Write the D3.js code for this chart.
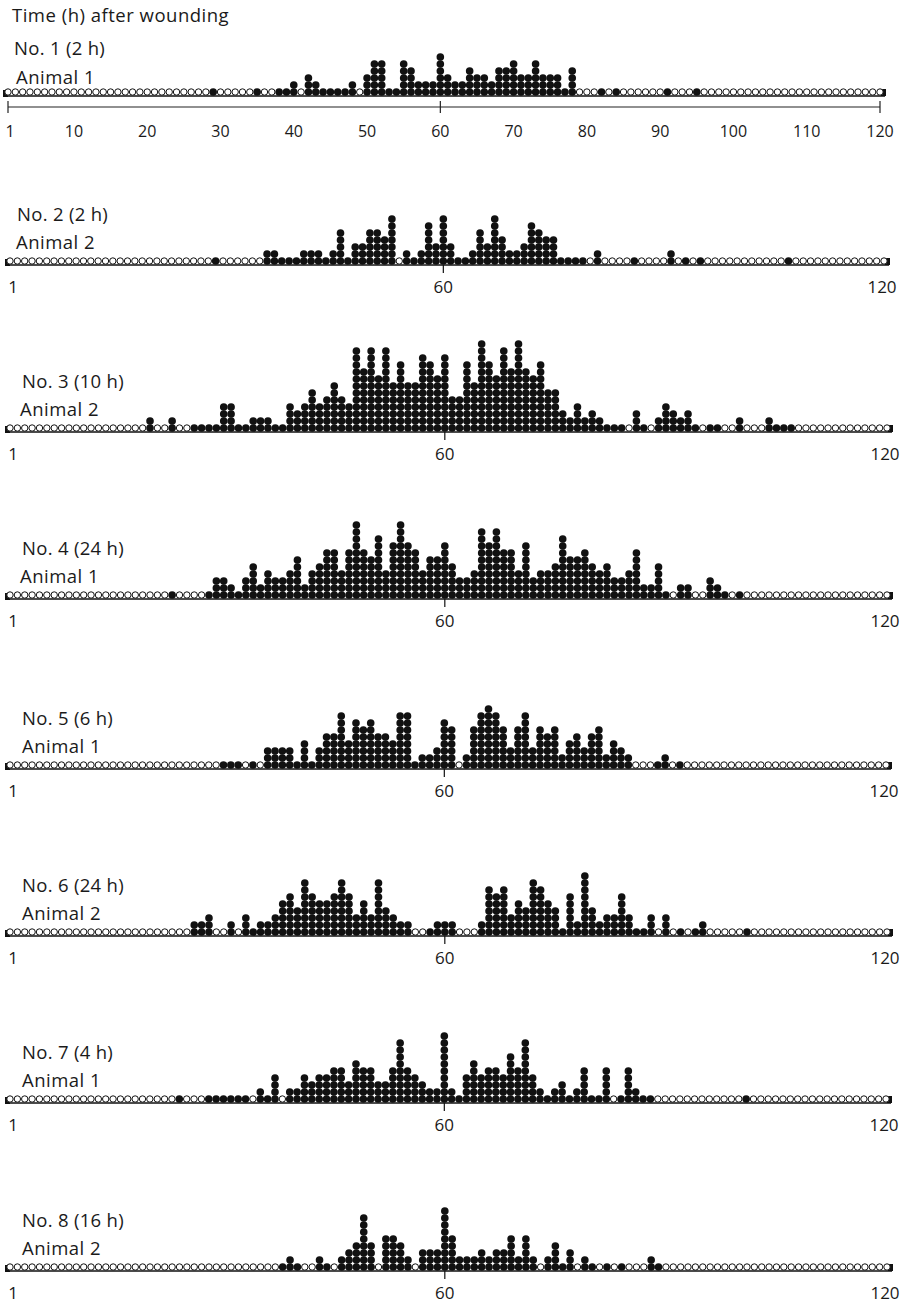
<!DOCTYPE html>
<html><head><meta charset="utf-8">
<script src="https://cdn.jsdelivr.net/npm/d3@7"></script>
<style>
body{margin:0;background:#fff}
text{font-family:"Open Sans",Lato,sans-serif;fill:#1a1a1a}
</style>
</head><body>
<svg id="chart" width="907" height="1309"></svg>
<script>
// ---------------- DATA ----------------
const chartTitle = "Time (h) after wounding";
const panelTitles = ["No. 1 (2 h)","No. 2 (2 h)","No. 3 (10 h)","No. 4 (24 h)","No. 5 (6 h)","No. 6 (24 h)","No. 7 (4 h)","No. 8 (16 h)"];
const animalLabels = ["Animal 1","Animal 2","Animal 2","Animal 1","Animal 1","Animal 2","Animal 1","Animal 2"];
const positions = d3.range(1, 121);
const scaleTicks = [1,10,20,30,40,50,60,70,80,90,100,110,120];
const panelTicks = [1,60,120];

// counts of filled dots at positions 1..120 (0 = open circle)
const counts1 = [
0,0,0,0,0,0,0,0,0,0, 0,0,0,0,0,0,0,0,0,0, 0,0,0,0,0,0,0,0,1,0,
0,0,0,0,1,0,0,1,1,2, 0,3,2,1,1,1,1,2,0,3, 5,5,1,1,5,4,2,2,2,6,
3,2,2,4,3,3,2,4,4,5, 3,3,5,3,3,3,1,4,0,0, 0,1,0,1,0,0,0,0,0,0,
1,0,0,0,1,0,0,0,0,0, 0,0,0,0,0,0,0,0,0,0, 0,0,0,0,0,0,0,0,0,0];
const counts2 = [
0,0,0,0,0,0,0,0,0,0, 0,0,0,0,0,0,0,0,0,0, 0,0,0,0,0,0,0,0,1,0,
0,0,0,0,0,2,2,1,1,1, 2,2,2,1,2,5,1,3,3,5, 5,4,7,0,2,1,2,6,3,7,
3,1,1,2,5,3,7,4,2,2, 3,6,5,4,4,1,1,1,1,0, 2,0,0,0,0,1,0,0,0,0,
2,0,1,0,1,0,0,0,0,0, 0,0,0,0,0,0,1,0,0,0, 0,0,0,0,0,0,0,0,0,0];
const counts3 = [
0,0,0,0,0,0,0,0,0,0, 0,0,0,0,0,0,0,0,0,2, 0,0,2,0,0,1,1,1,1,4,
4,1,1,2,2,2,1,1,4,3, 4,6,4,5,7,5,4,12,9,12, 8,12,7,10,7,7,11,10,8,11,
5,5,10,7,13,10,8,12,9,13, 9,8,10,6,6,3,2,4,2,3, 2,1,1,1,0,3,1,0,2,4,
3,2,3,1,0,1,1,0,0,2, 0,0,0,2,1,1,1,0,0,0, 0,0,0,0,0,0,0,0,0,0];
const counts4 = [
0,0,0,0,0,0,0,0,0,0, 0,0,0,0,0,0,0,0,0,0, 0,0,1,0,0,0,0,1,3,3,
2,1,3,5,2,4,3,3,4,6, 2,4,5,7,7,4,7,11,7,6, 9,4,8,11,8,7,4,6,6,8,
5,3,3,4,10,8,10,7,7,4, 8,3,4,4,5,9,6,6,7,5, 4,5,3,3,4,7,2,2,5,1,
0,2,2,0,0,3,2,1,0,1, 0,0,0,0,0,0,0,0,0,0, 0,0,0,0,0,0,0,0,0,0];
const counts5 = [
0,0,0,0,0,0,0,0,0,0, 0,0,0,0,0,0,0,0,0,0, 0,0,0,0,0,0,0,0,0,1,
1,1,0,1,0,3,3,3,3,1, 4,1,3,5,5,8,4,7,6,7, 5,5,4,8,8,1,2,2,3,7,
6,0,2,6,8,9,8,6,3,6, 8,3,6,5,6,2,4,5,3,5, 6,2,4,3,2,0,0,0,1,2,
0,1,0,0,0,0,0,0,0,0, 0,0,0,0,0,0,0,0,0,0, 0,0,0,0,0,0,0,0,0,0];
const counts6 = [
0,0,0,0,0,0,0,0,0,0, 0,0,0,0,0,0,0,0,0,0, 0,0,0,0,0,2,2,3,0,0,
2,0,3,1,2,2,3,5,6,4, 8,6,5,5,6,8,6,3,5,3, 8,4,3,2,2,0,0,1,2,2,
2,0,0,0,2,7,6,7,3,5, 4,8,7,5,4,1,6,2,9,4, 2,3,3,6,3,1,1,3,0,3,
0,1,0,1,2,0,0,0,0,0, 1,0,0,0,0,0,0,0,0,0, 0,0,0,0,0,0,0,0,0,0];
const counts7 = [
0,0,0,0,0,0,0,0,0,0, 0,0,0,0,0,0,0,0,0,0, 0,0,0,1,0,0,0,1,1,1,
1,1,1,0,2,1,4,0,2,2, 4,3,4,4,5,5,3,6,5,5, 3,3,5,9,5,4,3,2,2,10,
2,1,4,6,4,5,5,4,7,5, 9,4,2,1,2,3,1,2,5,1, 1,5,0,1,5,2,1,1,0,0,
0,0,0,0,0,0,0,0,0,0, 1,0,0,0,0,0,0,0,0,0, 0,0,0,0,0,0,0,0,0,0];
const counts8 = [
0,0,0,0,0,0,0,0,0,0, 0,0,0,0,0,0,0,0,0,0, 0,0,0,0,0,0,0,0,0,0,
0,0,0,0,0,0,0,1,2,1, 0,0,2,1,0,2,3,4,8,4, 0,5,5,4,2,0,3,3,3,9,
5,2,2,2,3,2,3,3,5,2, 5,2,0,2,4,1,3,0,2,1, 0,1,0,1,0,0,0,2,1,0,
0,0,0,0,0,0,0,0,0,0, 0,0,0,0,0,0,0,0,0,0, 0,0,0,0,0,0,0,0,0,0];
const allCounts = [counts1,counts2,counts3,counts4,counts5,counts6,counts7,counts8];

// ---------------- LAYOUT ----------------
const W = 907, H = 1309;
const baseY = [92, 261, 428, 595, 765, 932, 1099, 1267];
const xRanges = [[8,880],[10,884],[10,887],[10,887],[10,886],[10,887],[10,886],[10,887]];
const labelX = [14, 17, 22, 22, 22, 22, 22, 22];
const animalX = [16, 16, 20, 20, 22, 22, 22, 22];
const dotStep = 7;

const svg = d3.select("#chart");
svg.append("rect").attr("width", W).attr("height", H).attr("fill", "#fff");

svg.append("text").attr("x", 12).attr("y", 22)
  .attr("font-size", 18.5).attr("letter-spacing", 0.5).text(chartTitle);

allCounts.forEach((counts, i) => {
  const B = baseY[i];
  const x = d3.scaleLinear().domain([1, 120]).range(xRanges[i]);
  const y = d3.scaleLinear().domain([0, 1]).range([B, B - dotStep]);
  const g = svg.append("g");

  // labels
  const titleY = i === 0 ? 55 : B - 40;
  const animalY = i === 0 ? 84 : B - 12;
  g.append("text").attr("x", labelX[i]).attr("y", titleY).attr("font-size", 18.5)
    .attr("letter-spacing", 0.3).text(panelTitles[i]);
  g.append("text").attr("x", animalX[i]).attr("y", animalY).attr("font-size", 18.5)
    .attr("letter-spacing", 0.5).text(animalLabels[i]);

  // baseline
  const x0 = xRanges[i][0] - 4, x1 = xRanges[i][1] + 5;
  g.append("line").attr("x1", x0).attr("x2", x1).attr("y1", B + 4).attr("y2", B + 4)
    .attr("stroke", "#111").attr("stroke-width", 1.6);
  g.append("rect").attr("x", x0 - 1).attr("y", B - 2).attr("width", 5).attr("height", 7).attr("fill", "#111");
  g.append("rect").attr("x", x1 - 4).attr("y", B - 3).attr("width", 5).attr("height", 7).attr("fill", "#111");

  // open circles for empty positions
  g.selectAll("circle.open").data(positions.filter(p => counts[p - 1] === 0)).join("circle")
    .attr("class", "open")
    .attr("cx", p => x(p)).attr("cy", y(0)).attr("r", 3.2)
    .attr("fill", "#fff").attr("stroke", "#111").attr("stroke-width", 1);

  // filled stacks
  const filled = [];
  positions.forEach(p => { for (let j = 0; j < counts[p - 1]; j++) filled.push({p, j}); });
  g.selectAll("circle.fill").data(filled).join("circle")
    .attr("class", "fill")
    .attr("cx", d => x(d.p)).attr("cy", d => y(d.j)).attr("r", 3.8)
    .attr("fill", "#111");

  if (i === 0) {
    // separate scale axis for the first panel
    const ay = 107;
    g.append("line").attr("x1", x(1)).attr("x2", x(120)).attr("y1", ay).attr("y2", ay)
      .attr("stroke", "#222").attr("stroke-width", 1.2);
    [1, 60, 120].forEach(t => {
      g.append("line").attr("x1", x(t)).attr("x2", x(t)).attr("y1", ay - 6).attr("y2", ay + 6)
        .attr("stroke", "#222").attr("stroke-width", 1.2);
    });
    g.selectAll("text.tick").data(scaleTicks).join("text").attr("class", "tick")
      .attr("x", t => t === 1 ? x(t) + 2 : x(t))
      .attr("y", 137).attr("font-size", 16)
      .attr("text-anchor", "middle").text(t => t);
  } else {
    g.append("line").attr("x1", x(60)).attr("x2", x(60)).attr("y1", B + 4).attr("y2", B + 12)
      .attr("stroke", "#111").attr("stroke-width", 1.2);
    g.selectAll("text.tick").data(panelTicks).join("text").attr("class", "tick")
      .attr("x", t => t === 1 ? x(t) + 3 : (t === 120 ? x(t) - 2 : x(t)))
      .attr("y", B + 32).attr("font-size", 17)
      .attr("text-anchor", "middle").text(t => t);
  }
});
</script>
</body></html>
